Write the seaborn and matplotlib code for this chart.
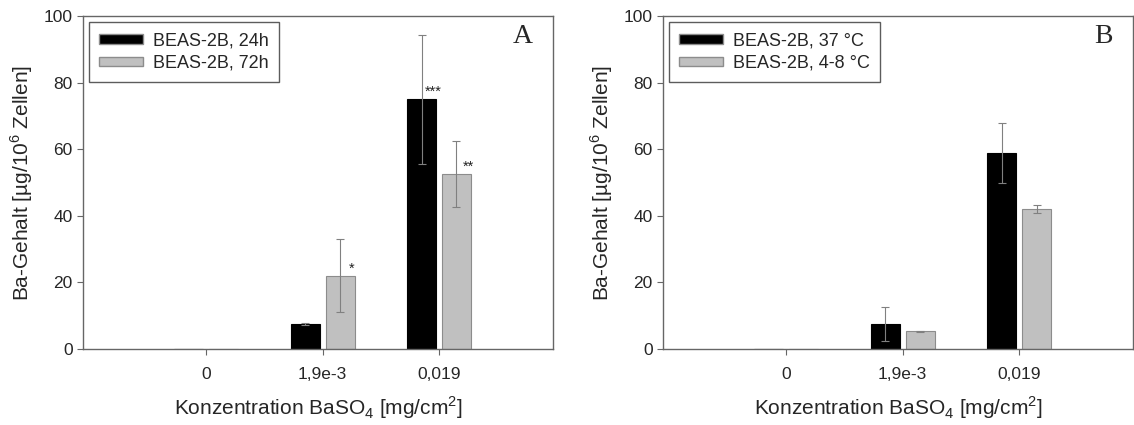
import numpy as np
import pandas as pd
import seaborn as sns
import matplotlib.pyplot as plt

# data
conc = ['0', '1,9e-3', '0,019']

a_labels = ['BEAS-2B, 24h', 'BEAS-2B, 72h']
a_24h = [0.0, 7.5, 75.0]
a_24h_err = [0.0, 0.4, 19.3]
a_72h = [0.0, 22.0, 52.5]
a_72h_err = [0.0, 11.0, 10.0]
a_stars_24h = ['', '', '***']
a_stars_72h = ['', '*', '**']

b_labels = ['BEAS-2B, 37 °C', 'BEAS-2B, 4-8 °C']
b_37 = [0.0, 7.5, 59.0]
b_37_err = [0.0, 5.1, 9.0]
b_cold = [0.0, 5.3, 42.0]
b_cold_err = [0.0, 0.1, 1.3]

BLACK = '#000000'
GREY = '#c0c0c0'
SPINE = '#666666'


def make_df(labels, v1, e1, v2, e2):
    rows = []
    for lab, vals, errs in ((labels[0], v1, e1), (labels[1], v2, e2)):
        for c, v, e in zip(conc, vals, errs):
            rows.append({'conc': c, 'group': lab, 'value': v, 'err': e})
    return pd.DataFrame(rows)


def draw_panel(ax, df, labels, letter, stars=None):
    sns.barplot(data=df, x='conc', y='value', hue='group', order=conc,
                hue_order=labels, palette=[BLACK, GREY], errorbar=None,
                width=0.6, gap=0.17, ax=ax, zorder=2)
    edge = ['#000000', '#8c8c8c']
    bar_groups = list(ax.containers)
    for i, cont in enumerate(bar_groups):
        sub = df[df['group'] == labels[i]].set_index('conc').loc[conc]
        xs = [b.get_x() + b.get_width() / 2 for b in cont]
        hs = [b.get_height() for b in cont]
        for b in cont:
            b.set_edgecolor(edge[i])
            b.set_linewidth(0.8)
        errs = sub['err'].values
        mask = errs > 0
        ax.errorbar(np.array(xs)[mask], np.array(hs)[mask], yerr=errs[mask],
                    fmt='none', ecolor='#808080', elinewidth=0.8,
                    capsize=3, capthick=0.8, zorder=3)
        if stars is not None:
            for x, h, s in zip(xs, hs, stars[i]):
                if s:
                    ax.text(x + 0.1, h + 0.1, s, ha='center', va='bottom',
                            fontsize=10.5, color='#222222')

    ax.set_ylim(0, 100)
    ax.set_xlim(-1.06, 2.98)
    ax.set_yticks(np.arange(0, 101, 20))
    ax.set_ylabel('Ba-Gehalt [µg/10$^6$ Zellen]', fontsize=15, labelpad=6)
    ax.set_xlabel('Konzentration BaSO$_4$ [mg/cm$^2$]', fontsize=15,
                  labelpad=9)
    ax.tick_params(axis='both', labelsize=12.5, direction='out', length=4,
                   color=SPINE, width=0.8, bottom=True, left=True)
    ax.tick_params(axis='x', pad=9)
    for sp in ax.spines.values():
        sp.set_visible(True)
        sp.set_color(SPINE)
        sp.set_linewidth(1.0)
    ax.grid(False)

    leg = ax.legend(loc='upper left', frameon=True, fancybox=False,
                    fontsize=13, handlelength=2.4, handleheight=0.45,
                    borderpad=0.55, labelspacing=0.3, handletextpad=0.6,
                    borderaxespad=0.35)
    leg.get_frame().set_edgecolor('#333333')
    leg.get_frame().set_linewidth(1.0)
    for h in leg.legend_handles:
        h.set_edgecolor('#8c8c8c')
    ax.text(0.957, 0.975, letter, transform=ax.transAxes, ha='right',
            va='top', fontsize=20, family='Liberation Serif')


sns.set_theme(style='white')
plt.rcParams['font.family'] = ['Liberation Sans', 'DejaVu Sans']
plt.rcParams['mathtext.fontset'] = 'custom'
plt.rcParams['mathtext.rm'] = 'Liberation Sans'

fig = plt.figure(figsize=(11.34, 4.25), dpi=100)
ax_a = fig.add_axes([0.0732, 0.179, 0.4145, 0.783])
ax_b = fig.add_axes([0.5847, 0.179, 0.4145, 0.783])

df_a = make_df(a_labels, a_24h, a_24h_err, a_72h, a_72h_err)
df_b = make_df(b_labels, b_37, b_37_err, b_cold, b_cold_err)

draw_panel(ax_a, df_a, a_labels, 'A', stars=[a_stars_24h, a_stars_72h])
draw_panel(ax_b, df_b, b_labels, 'B')

fig.savefig('out.png', dpi=100)
